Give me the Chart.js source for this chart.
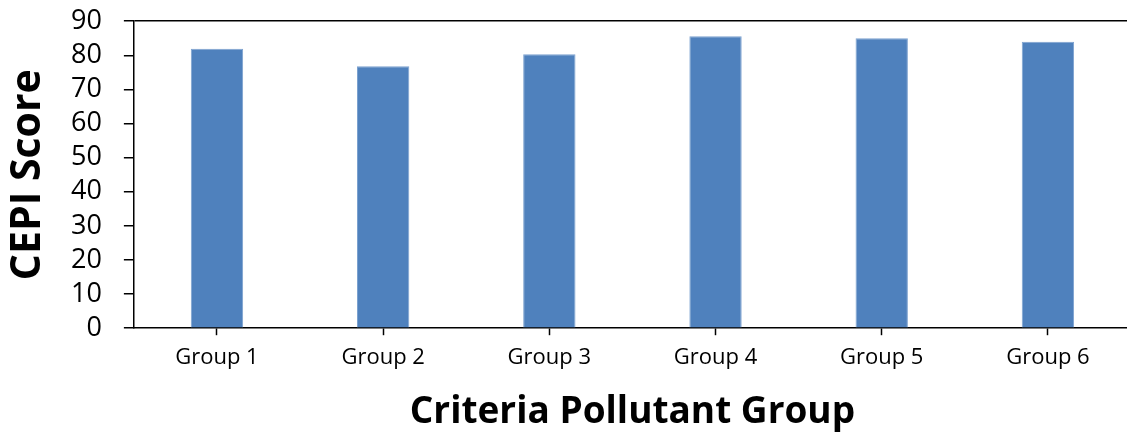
<!DOCTYPE html>
<html>
<head>
<meta charset="utf-8">
<script src="https://cdn.jsdelivr.net/npm/chart.js@4/dist/chart.umd.min.js"></script>
<style>
  html, body { margin: 0; padding: 0; background: #fff; overflow: hidden; }
  #wrap { position: relative; top: -17px; width: 1131px; height: 452px; }
</style>
</head>
<body>
<div id="wrap"><canvas id="chart"></canvas></div>
<script>
// values
var groups = ['Group 1', 'Group 2', 'Group 3', 'Group 4', 'Group 5', 'Group 6'];
var scores = [81.9, 76.8, 80.3, 85.6, 85.0, 84.0];
var yTicks = [0, 10, 20, 30, 40, 50, 60, 70, 80, 90];

var font = "'Open Sans', 'DejaVu Sans', sans-serif";

new Chart(document.getElementById('chart'), {
    type: 'bar',
    data: {
        labels: groups,
        datasets: [
            {
                label: 'CEPI Score',
                data: scores,
                backgroundColor: '#4F81BD',
                borderColor: '#7DA2D0',
                borderWidth: 1,
                barPercentage: 0.315,
                categoryPercentage: 1
            }
        ]
    },
    options: {
        responsive: true,
        maintainAspectRatio: false,
        animation: false,
        layout: { padding: { left: 5, top: 0, right: 0, bottom: 0 } },
        plugins: {
            legend: { display: false },
            tooltip: { enabled: false }
        },
        scales: {
            x: {
                grid: {
                    offset: false,
                    color: 'transparent',
                    tickColor: '#000',
                    tickLength: 7,
                    tickWidth: 1.5
                },
                border: { display: true, color: '#000', width: 1.5 },
                ticks: {
                    color: '#000',
                    padding: 9.5,
                    maxRotation: 0,
                    autoSkip: false,
                    font: { family: font, size: 22 }
                },
                title: {
                    display: true,
                    text: 'Criteria Pollutant Group',
                    color: '#000',
                    padding: { top: 10, bottom: 0 },
                    font: { family: font, size: 37, weight: 'bold' }
                }
            },
            y: {
                min: 0,
                max: 90,
                afterBuildTicks: function (axis) {
                    axis.ticks = yTicks.map(function (v) { return { value: v }; });
                },
                grid: {
                    color: function (ctx) {
                        return ctx.tick && ctx.tick.value === 90 ? '#000' : 'transparent';
                    },
                    lineWidth: 1.5,
                    tickColor: '#000',
                    tickLength: 10,
                    tickWidth: 1.5
                },
                border: { display: true, color: '#000', width: 1.5 },
                ticks: {
                    color: '#000',
                    padding: 22,
                    autoSkip: false,
                    font: { family: font, size: 27 }
                },
                title: {
                    display: true,
                    text: 'CEPI Score',
                    color: '#000',
                    padding: { top: 3, bottom: 0 },
                    font: { family: font, size: 41, weight: 'bold', lineHeight: 1 }
                }
            }
        }
    }
});
</script>
</body>
</html>
